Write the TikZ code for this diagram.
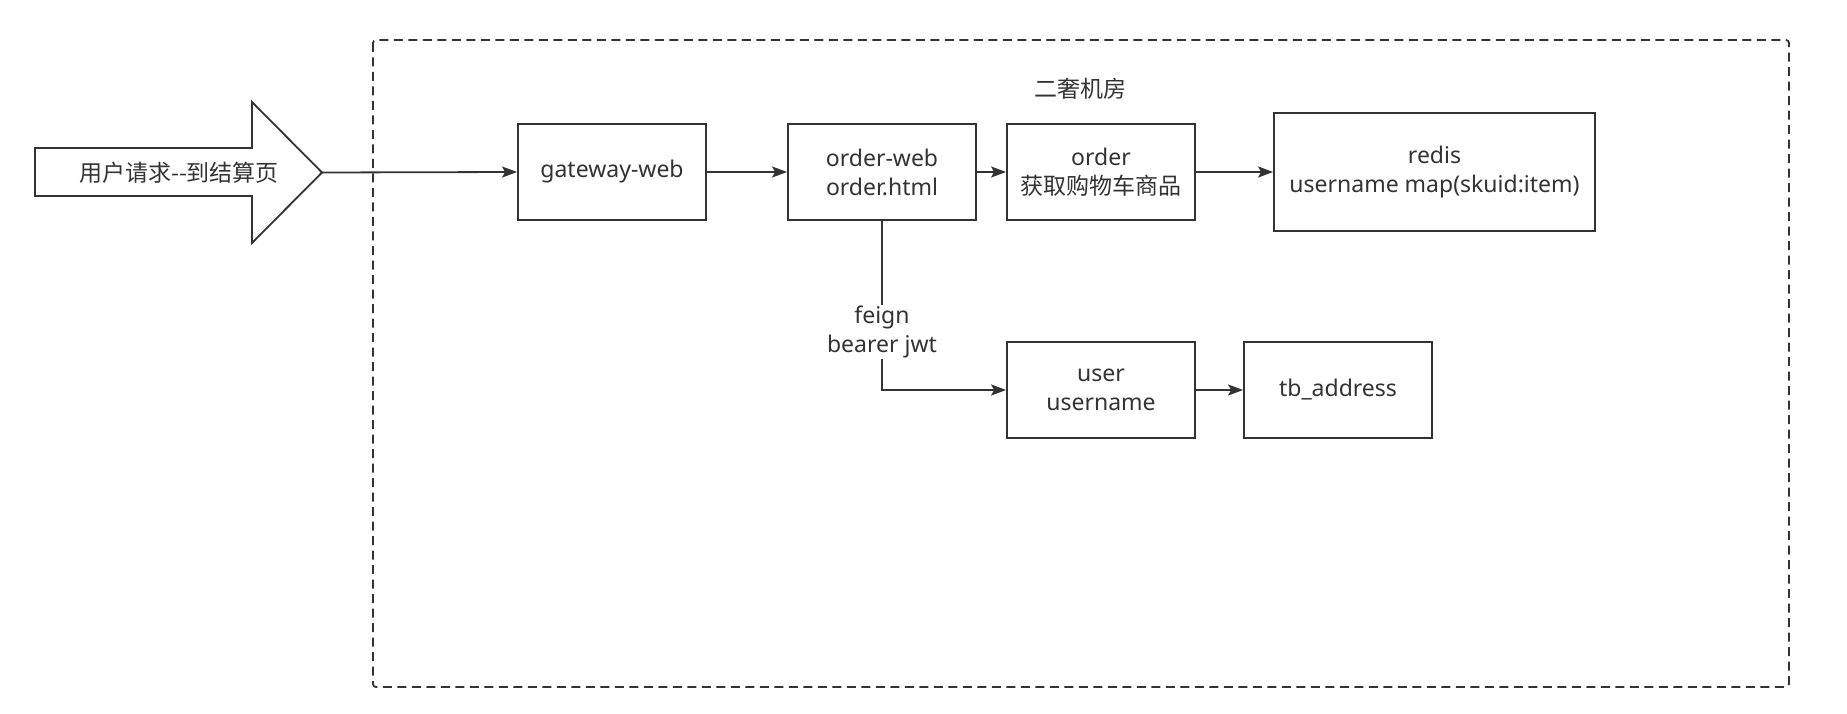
\documentclass[tikz,border=0pt]{standalone}
\usepackage{fontspec}
\setmainfont{Noto Sans}
\newfontfamily\cjk{Noto Sans CJK SC}
\usetikzlibrary{arrows.meta}
\definecolor{ink}{HTML}{333333}
\begin{document}
\begin{tikzpicture}[x=1pt,y=-1pt,
  every node/.style={text=ink, font=\fontsize{23}{29}\selectfont, align=center},
  box/.style={draw=ink, line width=1.8pt, fill=white, inner sep=0pt},
  conn/.style={draw=ink, line width=1.8pt, -{Stealth[length=15pt,width=11pt,inset=3pt]}},
  plain/.style={draw=ink, line width=1.8pt}]
\useasboundingbox (0,0) rectangle (1847,714);
% container
\draw[ink, line width=1.8pt, dash pattern=on 9pt off 5.5pt, rounded corners=3pt]
  (373,40) rectangle (1789,687);
\node (title) at (1080,89) {\cjk 二奢机房};
% big request arrow
\draw[ink, line width=1.8pt, fill=white, line join=miter]
  (35,148) -- (252,148) -- (252,102) -- (322,172.5) -- (252,243) -- (252,196) -- (35,196) -- cycle;
\node (req) at (179,172.5) {\cjk 用户请求--到结算页};
\coordinate (tip) at (322,172.5);
% boxes
\node[box, minimum width=188pt, minimum height=96pt] (gw) at (612,172) {gateway-web};
\node[box, minimum width=188pt, minimum height=96pt] (ow) at (882,172) {order-web\\order.html};
\node[box, minimum width=188pt, minimum height=96pt] (od) at (1101,172) {order\\\cjk 获取购物车商品};
\node[box, minimum width=321pt, minimum height=118pt] (rd) at (1434.5,172) {redis\\username map(skuid:item)};
\node[box, minimum width=188pt, minimum height=96pt] (us) at (1101,390) {user\\username};
\node[box, minimum width=188pt, minimum height=96pt] (tb) at (1338,390) {tb\_address};
% connectors
\draw[conn] (tip) -- (gw.west);
\draw[conn] (gw.east) -- (ow.west);
\draw[conn] (ow.east) -- (od.west);
\draw[conn] (od.east) -- (rd.west);
\draw[conn] (us.east) -- (tb.west);
\draw[conn] (ow.south) |- (us.west);
\node[fill=white, inner sep=1pt] (lbl) at (882,332) {feign\\bearer jwt};
\end{tikzpicture}
\end{document}
